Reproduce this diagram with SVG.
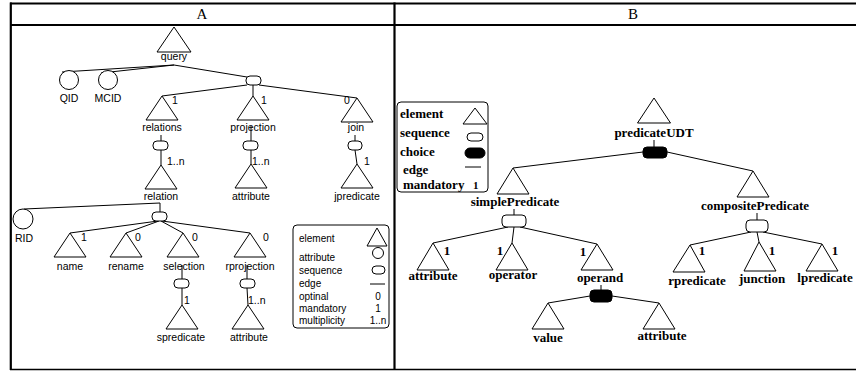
<svg xmlns="http://www.w3.org/2000/svg" xmlns:xlink="http://www.w3.org/1999/xlink" width="856" height="371" viewBox="0 0 856 371">
  <style>
    .frame { stroke: #000; stroke-width: 2.2; fill: none; }
    .tri { fill: #fff; stroke: #000; stroke-width: 1; }
    .circ { fill: #fff; stroke: #000; stroke-width: 1; }
    .seq { fill: #fff; stroke: #000; stroke-width: 1; }
    .cho { fill: #000; stroke: #000; stroke-width: 1; }
    .edge { stroke: #000; stroke-width: 1; fill: none; }
    .box { fill: #fff; stroke: #000; stroke-width: 1; }
    .la { font-family: "Liberation Sans", Arial, sans-serif; font-size: 10.5px; text-anchor: middle; fill: #000; }
    .ls { font-family: "Liberation Sans", Arial, sans-serif; font-size: 10.5px; fill: #000; }
    .lg { font-family: "Liberation Sans", Arial, sans-serif; font-size: 10px; fill: #000; }
    .lgm { font-family: "Liberation Sans", Arial, sans-serif; font-size: 10px; text-anchor: middle; fill: #000; }
    .lb { font-family: "Liberation Serif", "Times New Roman", serif; font-weight: bold; font-size: 13px; text-anchor: middle; fill: #000; }
    .lbs { font-family: "Liberation Serif", "Times New Roman", serif; font-weight: bold; font-size: 13px; fill: #000; }
    .hd { font-family: "Liberation Serif", "Times New Roman", serif; font-size: 15px; text-anchor: middle; fill: #000; }
  </style>
  <defs>
    <path id="triA" class="tri" d="M0,0 L16,24 L-16,24 Z"/>
    <path id="triB" class="tri" d="M0,0 L16,26 L-16,26 Z"/>
  </defs>

  <rect width="856" height="371" fill="#fff"/>

  <!-- table frame -->
  <g id="frame">
    <line class="frame" x1="10" y1="3.5" x2="856" y2="3.5"/>
    <line class="frame" x1="10" y1="25" x2="856" y2="25"/>
    <line class="frame" x1="10.8" y1="2.4" x2="10.8" y2="370"/>
    <line class="frame" x1="394.5" y1="2.4" x2="394.5" y2="370"/>
    <line class="frame" style="stroke-width:1.5" x1="10" y1="369.6" x2="856" y2="369.6"/>
    <text class="hd" x="202" y="19">A</text>
    <text class="hd" x="633" y="19">B</text>
  </g>

  <!-- connectors -->
  <g id="connectors">
    <!-- A -->
    <line class="edge" x1="174" y1="65" x2="62" y2="72"/>
    <line class="edge" x1="174" y1="65" x2="101" y2="73"/>
    <line class="edge" x1="174" y1="65" x2="247" y2="77"/>
    <line class="edge" x1="247" y1="85" x2="162" y2="96"/>
    <line class="edge" x1="253" y1="85" x2="253" y2="96"/>
    <line class="edge" x1="259" y1="85" x2="357" y2="98"/>
    <line class="edge" x1="161" y1="135" x2="161" y2="141"/>
    <line class="edge" x1="161" y1="150" x2="161" y2="165"/>
    <line class="edge" x1="251" y1="126" x2="251" y2="141"/>
    <line class="edge" x1="251" y1="150" x2="251" y2="164"/>
    <line class="edge" x1="355" y1="135" x2="355" y2="141"/>
    <line class="edge" x1="355" y1="150" x2="357" y2="164"/>
    <line class="edge" x1="160" y1="203" x2="24" y2="209"/>
    <line class="edge" x1="160" y1="203" x2="160" y2="212"/>
    <line class="edge" x1="158" y1="221" x2="70" y2="233"/>
    <line class="edge" x1="159" y1="221" x2="126" y2="233"/>
    <line class="edge" x1="161" y1="221" x2="183" y2="233"/>
    <line class="edge" x1="162" y1="221" x2="250" y2="233"/>
    <line class="edge" x1="182" y1="265" x2="182" y2="279"/>
    <line class="edge" x1="182" y1="288" x2="182" y2="305"/>
    <line class="edge" x1="247" y1="265" x2="247" y2="279"/>
    <line class="edge" x1="247" y1="288" x2="248" y2="305"/>
    <!-- B -->
    <line class="edge" x1="654" y1="140" x2="654" y2="147"/>
    <line class="edge" x1="643" y1="152" x2="513" y2="168"/>
    <line class="edge" x1="667" y1="152" x2="753" y2="171"/>
    <line class="edge" x1="514" y1="209" x2="514" y2="215"/>
    <line class="edge" x1="757" y1="213" x2="757" y2="220"/>
    <line class="edge" x1="508" y1="227" x2="433" y2="243"/>
    <line class="edge" x1="514" y1="227" x2="512" y2="243"/>
    <line class="edge" x1="520" y1="227" x2="597" y2="244"/>
    <line class="edge" x1="601" y1="285" x2="601" y2="290"/>
    <line class="edge" x1="590" y1="296" x2="548" y2="303"/>
    <line class="edge" x1="612" y1="296" x2="659" y2="303"/>
    <line class="edge" x1="751" y1="232" x2="690" y2="245"/>
    <line class="edge" x1="757" y1="232" x2="759" y2="242"/>
    <line class="edge" x1="763" y1="232" x2="822" y2="244"/>
  </g>

  <!-- ===== tree A ===== -->
  <g id="query">
    <path class="tri" d="M174,27 L191,52 L157,52 Z"/>
    <text class="la" x="174" y="60">query</text>
  </g>
  <g id="qid">
    <circle class="circ" cx="69" cy="80" r="9.5"/>
    <text class="la" x="69" y="102">QID</text>
  </g>
  <g id="mcid">
    <circle class="circ" cx="108" cy="80" r="9.5"/>
    <text class="la" x="108" y="102">MCID</text>
  </g>
  <g id="seq-query">
    <rect class="seq" x="246" y="76" width="15" height="9" rx="4"/>
  </g>
  <g id="relations">
    <use xlink:href="#triA" x="162" y="96"/>
    <text class="la" x="175" y="104">1</text>
    <text class="la" x="162" y="131">relations</text>
  </g>
  <g id="projection">
    <use xlink:href="#triA" x="253" y="96"/>
    <text class="la" x="264" y="104">1</text>
    <text class="la" x="253" y="131">projection</text>
  </g>
  <g id="join">
    <use xlink:href="#triA" x="357" y="98"/>
    <text class="la" x="347" y="104">0</text>
    <text class="la" x="356" y="131">join</text>
  </g>
  <g id="seq-relations">
    <rect class="seq" x="153" y="141" width="15" height="9" rx="4"/>
    <text class="ls" x="167" y="165">1..n</text>
  </g>
  <g id="relation">
    <use xlink:href="#triA" x="161" y="165"/>
    <text class="la" x="161" y="200">relation</text>
  </g>
  <g id="seq-projection">
    <rect class="seq" x="243" y="141" width="15" height="9" rx="4"/>
    <text class="ls" x="252" y="165">1..n</text>
  </g>
  <g id="attribute-a1">
    <use xlink:href="#triA" x="251" y="164"/>
    <text class="la" x="251" y="200">attribute</text>
  </g>
  <g id="seq-join">
    <rect class="seq" x="348" y="141" width="14" height="9" rx="4"/>
    <text class="la" x="367" y="165">1</text>
  </g>
  <g id="jpredicate">
    <use xlink:href="#triA" x="357" y="164"/>
    <text class="la" x="357" y="200">jpredicate</text>
  </g>
  <g id="rid">
    <circle class="circ" cx="23" cy="219" r="10"/>
    <text class="la" x="24" y="242">RID</text>
  </g>
  <g id="seq-relation">
    <rect class="seq" x="152" y="212" width="15" height="9" rx="4"/>
  </g>
  <g id="name">
    <use xlink:href="#triA" x="70" y="233"/>
    <text class="la" x="84" y="241">1</text>
    <text class="la" x="70" y="270">name</text>
  </g>
  <g id="rename">
    <use xlink:href="#triA" x="126" y="233"/>
    <text class="la" x="138" y="241">0</text>
    <text class="la" x="126" y="270">rename</text>
  </g>
  <g id="selection">
    <use xlink:href="#triA" x="183" y="233"/>
    <text class="la" x="195" y="241">0</text>
    <text class="la" x="184" y="270">selection</text>
  </g>
  <g id="rprojection">
    <use xlink:href="#triA" x="250" y="233"/>
    <text class="la" x="266" y="241">0</text>
    <text class="la" x="250" y="270">rprojection</text>
  </g>
  <g id="seq-selection">
    <rect class="seq" x="174" y="279" width="15" height="9" rx="4"/>
    <text class="ls" x="184" y="304">1</text>
  </g>
  <g id="spredicate">
    <use xlink:href="#triA" x="182" y="305"/>
    <text class="la" x="181" y="341">spredicate</text>
  </g>
  <g id="seq-rprojection">
    <rect class="seq" x="240" y="279" width="15" height="9" rx="4"/>
    <text class="ls" x="248" y="304">1..n</text>
  </g>
  <g id="attribute-a2">
    <use xlink:href="#triA" x="248" y="305"/>
    <text class="la" x="249" y="341">attribute</text>
  </g>

  <!-- legend A -->
  <g id="legend-a">
    <rect class="box" x="293" y="225" width="96" height="103" rx="4"/>
    <text class="lg" x="299" y="242">element</text>
    <path class="tri" d="M377,228 L387,246 L367,246 Z"/>
    <text class="lg" x="299" y="261">attribute</text>
    <circle class="circ" cx="378" cy="253" r="5.5"/>
    <text class="lg" x="299" y="274">sequence</text>
    <rect class="seq" x="372" y="266" width="13" height="8" rx="4"/>
    <text class="lg" x="299" y="287">edge</text>
    <line class="edge" x1="370" y1="284" x2="385" y2="284"/>
    <text class="lg" x="299" y="300">optinal</text>
    <text class="lgm" x="378" y="300">0</text>
    <text class="lg" x="299" y="312">mandatory</text>
    <text class="lgm" x="378" y="312">1</text>
    <text class="lg" x="299" y="324">multiplicity</text>
    <text class="lgm" x="378" y="324">1..n</text>
  </g>

  <!-- ===== tree B ===== -->
  <g id="legend-b">
    <rect class="box" x="397" y="102" width="91" height="90" rx="4"/>
    <text class="lbs" x="400" y="118">element</text>
    <path class="tri" d="M475,108 L487,124 L463,124 Z"/>
    <text class="lbs" x="400" y="137">sequence</text>
    <rect class="seq" x="467" y="133" width="16" height="8" rx="4"/>
    <text class="lbs" x="400" y="156">choice</text>
    <rect class="cho" x="465" y="148" width="20" height="10" rx="5"/>
    <text class="lbs" x="403" y="174">edge</text>
    <line class="edge" x1="465" y1="167" x2="481" y2="167"/>
    <text class="lbs" x="403" y="189">mandatory</text>
    <text class="lbs" style="font-size:11px" x="473" y="189">1</text>
  </g>
  <g id="predicateUDT">
    <path class="tri" d="M654,98 L670.5,123 L637.5,123 Z"/>
    <text class="lb" x="654" y="137">predicateUDT</text>
  </g>
  <g id="choice-udt">
    <rect class="cho" x="643" y="147" width="24" height="11" rx="4"/>
  </g>
  <g id="simplePredicate">
    <use xlink:href="#triB" x="513" y="168"/>
    <text class="lb" x="515" y="206">simplePredicate</text>
  </g>
  <g id="compositePredicate">
    <use xlink:href="#triB" x="753" y="171"/>
    <text class="lb" x="755" y="210">compositePredicate</text>
  </g>
  <g id="seq-simple">
    <rect class="seq" x="502" y="215" width="24" height="12" rx="4"/>
  </g>
  <g id="seq-composite">
    <rect class="seq" x="746" y="220" width="22" height="12" rx="4"/>
  </g>
  <g id="attribute-b1">
    <path class="tri" d="M433,243 L449,270 L417,270 Z"/>
    <text class="lb" x="447" y="255">1</text>
    <text class="lb" x="433" y="280">attribute</text>
  </g>
  <g id="operator">
    <path class="tri" d="M512,243 L528,270 L496,270 Z"/>
    <text class="lb" x="500" y="255">1</text>
    <text class="lb" x="513" y="279">operator</text>
  </g>
  <g id="operand">
    <path class="tri" d="M597,244 L613,270 L581,270 Z"/>
    <text class="lb" x="583" y="256">1</text>
    <text class="lb" x="600" y="282">operand</text>
  </g>
  <g id="choice-operand">
    <rect class="cho" x="590" y="290" width="22" height="12" rx="4"/>
  </g>
  <g id="value">
    <use xlink:href="#triB" x="548" y="303"/>
    <text class="lb" x="548" y="342">value</text>
  </g>
  <g id="attribute-b2">
    <use xlink:href="#triB" x="659" y="303"/>
    <text class="lb" x="662" y="340">attribute</text>
  </g>
  <g id="rpredicate">
    <path class="tri" d="M690,245 L705,272 L673,272 Z"/>
    <text class="lb" x="702" y="255">1</text>
    <text class="lb" x="697" y="285">rpredicate</text>
  </g>
  <g id="junction">
    <path class="tri" d="M759,242 L776,271 L744,271 Z"/>
    <text class="lb" x="772" y="255">1</text>
    <text class="lb" x="762" y="283">junction</text>
  </g>
  <g id="lpredicate">
    <path class="tri" d="M822,244 L838,271 L806,271 Z"/>
    <text class="lb" x="835" y="255">1</text>
    <text class="lb" x="825" y="282">lpredicate</text>
  </g>
</svg>
